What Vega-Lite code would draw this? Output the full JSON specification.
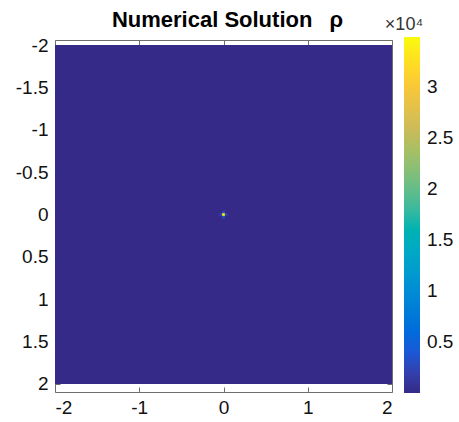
{
  "$schema": "https://vega.github.io/schema/vega-lite/v6.json",
  "autosize": {"type": "none"},
  "width": 337,
  "height": 352,
  "padding": {"left": 55, "top": 40, "right": 67, "bottom": 30},
  "background": "white",
  "config": {
    "view": {"stroke": null},
    "font": "Liberation Sans",
    "axis": {"grid": false, "labelFont": "Liberation Sans", "labelFontSize": 19, "labelColor": "#111111", "domainColor": "#6e6e6e", "tickColor": "#6e6e6e", "tickSize": -5, "domainWidth": 1, "tickWidth": 1, "title": null}
  },
  "title": {"text": "Numerical Solution \u2002ρ", "fontSize": 22, "fontWeight": "bold", "font": "Liberation Sans", "color": "#000000", "anchor": "middle", "offset": 14, "dy": 30, "dx": 4},
  "data": {"values": [
    {"x": -2, "x2": 2, "y": -2, "y2": 2, "v": 0},
    {"x": -0.046875, "x2": -0.015625, "y": -0.015625, "y2": 0.015625, "v": 2500},
    {"x": 0.015625, "x2": 0.046875, "y": -0.015625, "y2": 0.015625, "v": 2500},
    {"x": -0.015625, "x2": 0.015625, "y": -0.046875, "y2": -0.015625, "v": 2500},
    {"x": -0.015625, "x2": 0.015625, "y": 0.015625, "y2": 0.046875, "v": 3500},
    {"x": -0.015625, "x2": 0.015625, "y": -0.015625, "y2": 0.015625, "v": 34900}
  ]},
  "layer": [
    {
      "mark": {"type": "rect", "strokeWidth": 0},
      "encoding": {
        "x": {"field": "x", "type": "quantitative", "scale": {"domain": [-2, 2], "nice": false, "zero": false},
              "axis": {"orient": "bottom", "values": [-2, -1, 0, 1, 2], "labelExpr": "'' + datum.value", "labelPadding": 11}},
        "x2": {"field": "x2"},
        "y": {"field": "y", "type": "quantitative", "scale": {"domain": [-2.06, 2.095], "nice": false, "zero": false, "reverse": true},
              "axis": {"orient": "left", "values": [-2, -1.5, -1, -0.5, 0, 0.5, 1, 1.5, 2], "labelExpr": "'' + datum.value", "labelPadding": 12}},
        "y2": {"field": "y2"},
        "color": {"field": "v", "type": "quantitative",
                  "scale": {"domain": [0, 4362.5, 8725, 13087.5, 17450, 21812.5, 26175, 30537.5, 34900],
                            "range": ["#352a87", "#0f5cdd", "#1481d6", "#06a4ca", "#2eb7a4", "#87bf77", "#d1bb59", "#fec832", "#f9fb0e"]},
                  "legend": {"orient": "none", "legendX": 330, "legendY": -24, "direction": "vertical",
                             "gradientLength": 356, "gradientThickness": 16, "gradientStrokeWidth": 0,
                             "values": [5000, 10000, 15000, 20000, 25000, 30000], "labelExpr": "'' + datum.value / 10000",
                             "labelFontSize": 19, "labelFont": "Liberation Sans", "labelColor": "#111111", "labelOffset": 7, "labelOverlap": false,
                             "title": "×10⁴", "titleFontSize": 18, "titleFontWeight": "normal", "titleColor": "#333333", "titleFont": "Liberation Sans",
                             "titleAnchor": "start", "titleAlign": "center", "titlePadding": 3}}
      }
    },
    {
      "mark": {"type": "rect", "opacity": 0},
      "encoding": {
        "x": {"field": "x", "type": "quantitative", "axis": {"orient": "top", "values": [-2, -1, 0, 1, 2], "labels": false}},
        "x2": {"field": "x2"},
        "y": {"field": "y", "type": "quantitative", "axis": {"orient": "right", "values": [-2, -1.5, -1, -0.5, 0, 0.5, 1, 1.5, 2], "labels": false}},
        "y2": {"field": "y2"}
      }
    }
  ],
  "resolve": {"axis": {"x": "independent", "y": "independent"}}
}
